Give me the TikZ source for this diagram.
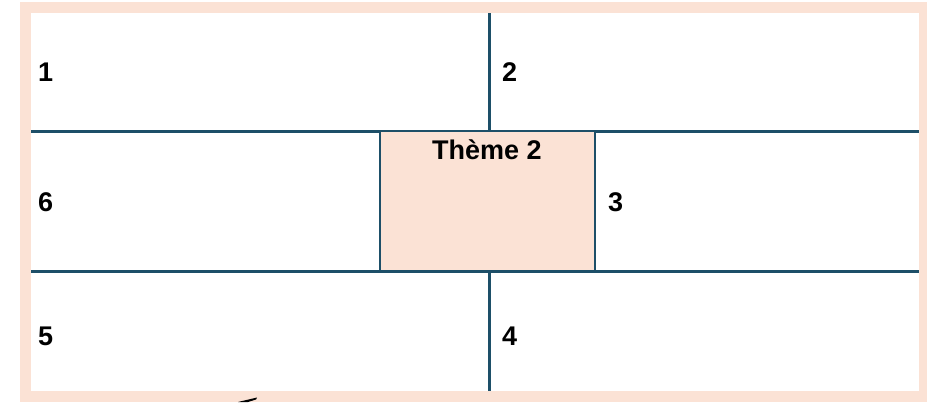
\documentclass[tikz,border=0pt]{standalone}
\usepackage{fontspec}
\setmainfont{Liberation Sans}
\definecolor{peach}{HTML}{FBE2D5}
\definecolor{teal}{HTML}{1D4F68}
\begin{document}
\begin{tikzpicture}[x=1pt,y=-1pt,
  gridline/.style={draw=teal,line width=3pt},
  lbl/.style={font=\fontsize{27}{31}\selectfont\bfseries,inner sep=0pt,anchor=west,text=black}]
\useasboundingbox (0,0) rectangle (927,402);
\fill[peach] (20,2) rectangle (927,402);
\fill[white] (31,13) rectangle (919,391);
\coordinate (hl1) at (31,131); \coordinate (hr1) at (919,131);
\coordinate (hl2) at (31,271); \coordinate (hr2) at (919,271);
\coordinate (vt) at (489,13); \coordinate (vm1) at (489,131);
\coordinate (vm2) at (489,271); \coordinate (vb) at (489,391);
\draw[gridline] (hl1) -- (hr1);
\draw[gridline] (hl2) -- (hr2);
\draw[gridline] (vt) -- (vm1);
\draw[gridline] (vm2) -- (vb);
\node[fill=peach,draw=teal,line width=2.5pt,minimum width=215pt,minimum height=140pt,inner sep=0pt] (theme) at (487.5,201) {};
\node[lbl,anchor=north] (themelbl) at (487,139) {Thème 2};
\node[lbl] (n1) at (38,72) {1};
\node[lbl] (n2) at (502,72) {2};
\node[lbl] (n6) at (38,202) {6};
\node[lbl] (n3) at (608,202) {3};
\node[lbl] (n5) at (38,336) {5};
\node[lbl] (n4) at (502,336) {4};
\fill[black] (238,402) -- (257,397.5) -- (256,399.5) -- (248,402) -- cycle;
\end{tikzpicture}
\end{document}
